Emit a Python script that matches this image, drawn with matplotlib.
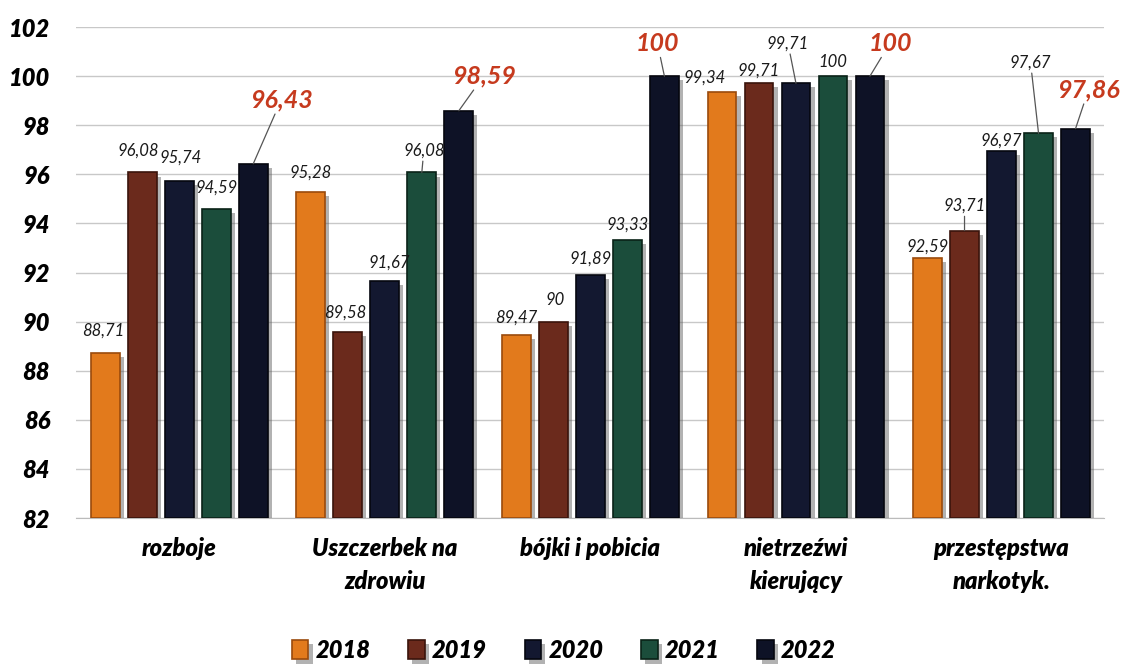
import matplotlib
matplotlib.use("Agg")
import matplotlib.pyplot as plt
import matplotlib.patheffects as pe
import numpy as np

categories = ["rozboje", "Uszczerbek na\nzdrowiu", "bójki i pobicia", "nietrzeźwi\nkierujący", "przestępstwa\nnarkotyk."]
years = ["2018", "2019", "2020", "2021", "2022"]
v2018 = [88.71, 95.28, 89.47, 99.34, 92.59]
v2019 = [96.08, 89.58, 90.00, 99.71, 93.71]
v2020 = [95.74, 91.67, 91.89, 99.71, 96.97]
v2021 = [94.59, 96.08, 93.33, 100.00, 97.67]
v2022 = [96.43, 98.59, 100.00, 100.00, 97.86]
series = [v2018, v2019, v2020, v2021, v2022]
yticks = [82, 84, 86, 88, 90, 92, 94, 96, 98, 100, 102]

colors = ["#E27A1C", "#6B2A1C", "#131830", "#1B4D3B", "#0E1226"]
edge = ["#9A4A0C", "#3A140C", "#05070F", "#0A2218", "#05060E"]

# label offsets in pixels (dx, dy) relative to bar top, and whether a leader line is drawn
offsets = {
    0: [(-2, 23, 0), (0, 19, 0), (0, 17, 0), (-17, 15, 0), (0, 11, 0)],
    1: [(-4, 22, 0), (-3, 19, 0), (2, 22, 0), (0, 13, 0), (0, 25, 1)],
    2: [(1, 23, 0), (4, 18, 0), (0, 17, 0), (-8, 40, 1), (0, 10, 0)],
    3: [(0, 21, 0), (2, 22, 1), (0, 15, 0), (0, 14, 0), (-8, 71, 1)],
    4: [(28, 64, 1), (25, 35, 1), (-7, 33, 1), (20, 33, 1), (13, 39, 1)],
}

FONT = ["Lato", "DejaVu Sans"]
plt.rcParams["font.family"] = FONT
HEAVY = "heavy"

fig = plt.figure(figsize=(11.28, 6.69), dpi=100)
ax = fig.add_axes([0.0678, 0.2257, 0.9112, 0.7339])

x = np.arange(len(categories))
pitch = 0.18
width = 0.14
shadow = [pe.SimplePatchShadow(offset=(3, -3), shadow_rgbFace="#555555", alpha=0.45), pe.Normal()]

for j, (vals, yr) in enumerate(zip(series, years)):
    xs = x + (j - 2) * pitch
    bars = ax.bar(xs, np.array(vals) - 82, bottom=82, width=width, color=colors[j],
                  edgecolor=edge[j], linewidth=1.2, label=yr, zorder=3)
    for b in bars:
        b.set_path_effects(shadow)
    for i, v in enumerate(vals):
        dx, dy, lead = offsets[j][i]
        txt = f"{v:.2f}".rstrip("0").rstrip(".").replace(".", ",")
        if j == 4:
            kw = dict(color="#C63A1E", fontsize=18, fontweight="bold", fontstyle="italic")
        else:
            kw = dict(color="#1a1a1a", fontsize=12, fontstyle="italic")
        ap = dict(arrowstyle="-", color="#555555", lw=0.9, shrinkA=0, shrinkB=0) if lead else None
        ax.annotate(txt, xy=(xs[i], v), xytext=(dx, dy), textcoords="offset pixels",
                    ha="center", va="center", arrowprops=ap, zorder=5, **kw)

ax.set_ylim(82, 102)
ax.set_xlim(-0.5, len(categories) - 0.5)
ax.set_yticks(yticks)
ax.set_yticklabels([str(t) for t in yticks], fontsize=17, fontweight=HEAVY, fontstyle="italic")
ax.tick_params(axis="y", length=0, pad=19)
ax.tick_params(axis="x", length=0, pad=14)
ax.set_xticks(x)
ax.set_xticklabels(categories, fontsize=17, fontweight=HEAVY, fontstyle="italic", linespacing=1.5)
ax.grid(axis="y", color="#C8C8C8", linewidth=1, zorder=0)
for s in ["left", "right", "top"]:
    ax.spines[s].set_visible(False)
ax.spines["bottom"].set_color("#BBBBBB")

leg = fig.legend(loc="center", bbox_to_anchor=(0.5, 0.028), ncol=5, frameon=False,
                 prop=dict(family=FONT, size=17, weight=HEAVY, style="italic"),
                 handlelength=0.7, handleheight=0.9, handletextpad=0.3, columnspacing=1.6)

fig.savefig("out.png", dpi=100)
